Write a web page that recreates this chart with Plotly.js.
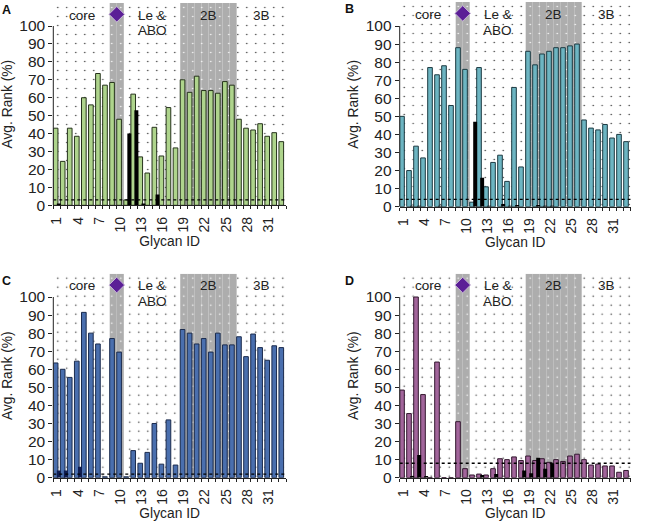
<!DOCTYPE html>
<html><head><meta charset="utf-8">
<script src="https://cdn.plot.ly/plotly-3.0.1.min.js"></script>
<style>html,body{margin:0;padding:0;background:#fff}</style></head>
<body><div id="chart" style="width:666px;height:522px"></div>
<script>
const glycanIds = Array.from({length:33},(_,i)=>i+1);
const tickIds = [1,4,7,10,13,16,19,22,25,28,31];
const yTicks = [0,10,20,30,40,50,60,70,80,90,100];

const rankA = [43,24.5,43,38.5,60,56,73.5,67,68.5,48,3,62,27,18,43.5,27.5,54.5,32,70,63,72,64,64,62.5,69,67,48,43,42,45.5,38.5,40.5,35.5];
const lowA  = [1,0,0,0,0,0,0,0,0,0,40,53,1,0,6,0,0,0,0,0,0,0,0,0,0,0,0,0,0,0,0,0,0];
const rankB = [50,20,33.5,27,77,73,78,56,88,76,2.5,77,11,24.5,28.5,14,66,22,86,78.5,84.5,86,88,88,89,90,48,43.5,42.5,45.5,38,40,36];
const lowB  = [0,0.5,0.5,0,0,0.5,0,0,0,0,47,16,0.5,0,1.5,0.5,1,0,0,1,0.5,0.5,0,0,0,0,0,0,0,0,0,0,0];
const rankC = [63.5,60,55.5,64.5,91.5,80,74,0.5,77,69.5,0.5,15,8,14,30,7.5,32,7,82,80,74,77,69.5,80,73.5,73.5,78,67,79.5,72,65,73,72];
const lowC  = [4,4,0,6,0,0,0,0,0,0,0,0,0,0,0,0,0,0,0,0,0,0,0,0,0,0,0,0,0,0,0,0,0];
const rankD = [48.5,35.5,100,46,0,64,0,0,31,5,1.5,2,1.5,5,10.5,10,11.5,9.5,12,9.5,10.5,8.5,10,9,12,13,10,7,7.5,6.5,6.5,3,4];
const lowD  = [0,1,12.5,1,0,0,0,0,0,0,0,1.5,0,2,0,0,0,4,2.5,11,5,8,0,0,0,0,0,0,0,0,0,0,0];
const lodValues = [3,4,2,8];

const panels = [
 {n:'',  L:'A', rank:rankA, low:lowA, lod:lodValues[0], fill:'#aed48c', edge:'#26331c', dark:'#000000', px:[53.3,286], py:[205.3,3],   s:1.793, lx:0, ls:-3},
 {n:'2', L:'B', rank:rankB, low:lowB, lod:lodValues[1], fill:'#6db5c2', edge:'#1d3a42', dark:'#000000', px:[399.7,630.7], py:[206.7,2], s:1.807, lx:343, ls:0},
 {n:'3', L:'C', rank:rankC, low:lowC, lod:lodValues[2], fill:'#4a6fae', edge:'#1b2b4d', dark:'#0f1c50', px:[53.3,286], py:[477.7,273.7], s:1.807, lx:0, ls:0},
 {n:'4', L:'D', rank:rankD, low:lowD, lod:lodValues[3], fill:'#a2659b', edge:'#33182f', dark:'#000000', px:[399.7,630.7], py:[477.7,273.7], s:1.807, lx:343, ls:0}
];
const W=666,H=522,FONT='"Liberation Sans", Arial, sans-serif',TXT='#222';
const whiteIds = [1,2,3,4,5,6,7,8,11,12,13,14,15,16,17,18,27,28,29,30,31,32,33];
const grayIds  = [9,10,19,20,21,22,23,24,25,26];

const traces=[], layout={width:W,height:H,margin:{l:0,r:0,t:0,b:0},paper_bgcolor:'#fff',plot_bgcolor:'#fff',
  showlegend:false,barmode:'overlay',annotations:[],shapes:[],font:{family:FONT,color:TXT}};

panels.forEach(p=>{
  const xa='x'+p.n, ya='y'+p.n, top=(p.py[0]-p.py[1])/p.s;
  const base={xaxis:xa,yaxis:ya,hoverinfo:'skip',type:'bar'};
  traces.push({...base,x:whiteIds,y:whiteIds.map(()=>top),width:1,marker:{color:'#fff',line:{width:0},pattern:{shape:'.',size:9,solidity:0.022,fgcolor:'#333',bgcolor:'#fff'}}});
  traces.push({...base,x:grayIds,y:grayIds.map(()=>top),width:1,marker:{color:'#adadad',line:{width:0},pattern:{shape:'.',size:9,solidity:0.022,fgcolor:'#fff',bgcolor:'#adadad'}}});
  traces.push({...base,x:glycanIds,y:p.rank,width:0.66,offset:-0.5,marker:{color:p.fill,line:{color:p.edge,width:1}}});
  traces.push({...base,x:glycanIds,y:p.low,width:0.56,offset:0.0,marker:{color:p.dark,line:{width:0}}});
  traces.push({xaxis:xa,yaxis:ya,hoverinfo:'skip',type:'scatter',mode:'lines',x:[0.5,33.5],y:[p.lod,p.lod],line:{color:'#000',width:1.3,dash:'dot'}});
  traces.push({xaxis:xa,yaxis:ya,hoverinfo:'skip',type:'scatter',mode:'markers',x:[9.5],y:[top-6.3],marker:{symbol:'diamond',size:12,color:'#5b1f96',line:{color:'#c9b8d8',width:1}}});

  layout['xaxis'+p.n]={domain:[p.px[0]/W,p.px[1]/W],range:[0.5,33.5],anchor:ya,tickmode:'array',tickvals:tickIds,ticktext:tickIds.map(String),
    tickangle:-90,ticks:'outside',ticklen:5,tickcolor:'rgba(0,0,0,0)',tickfont:{size:14,color:TXT,family:FONT},showgrid:false,zeroline:false,
    showline:true,linecolor:'#222',linewidth:1,
    minor:{tick0:0.5,dtick:1,ticks:'outside',ticklen:3,tickcolor:'#222',tickwidth:1,showgrid:false},
    title:{text:'Glycan ID',font:{size:13.8,color:TXT,family:FONT},standoff:4}};
  layout['yaxis'+p.n]={domain:[1-p.py[0]/H,1-p.py[1]/H],range:[0,top],anchor:xa,tickmode:'array',tickvals:yTicks,ticktext:yTicks.map(String),
    ticks:'outside',ticklen:4,tickcolor:'#222',tickfont:{size:15.5,color:TXT,family:FONT},showgrid:false,zeroline:false,showline:false,
    title:{text:'Avg. Rank (%)',font:{size:13.8,color:TXT,family:FONT},standoff:3}};
  layout.shapes.push({type:'line',xref:'x'+p.n+' domain',yref:ya,x0:0,x1:0,y0:0,y1:100,line:{color:'#222',width:1},layer:'above'});
  const lab=(text,x,yv,extra)=>layout.annotations.push({xref:xa,yref:ya,x,y:yv,text,showarrow:false,font:{size:13.5,color:TXT,family:FONT},xanchor:'center',yanchor:'middle',...extra});
  lab('core',4.6,top-6.7);
  lab('Le &',14.5,top-6.7);
  lab('ABO',14.5,top-15.5);
  lab('2B',22.5,top-6.7);
  lab('3B',30,top-6.7);
  lab('<b>LOD</b>',33.9,p.lod,{xanchor:'left',yshift:p.ls,font:{size:13.4,color:'#111',family:FONT}});
  layout.annotations.push({xref:'paper',yref:'paper',x:p.lx/W,y:1-(p.py[1]+7)/H,text:'<b>'+p.L+'</b>',showarrow:false,xanchor:'left',yanchor:'middle',font:{size:12.5,color:'#111',family:FONT}});
});
Plotly.newPlot('chart',traces,layout,{displayModeBar:false,staticPlot:true});
</script></body></html>
